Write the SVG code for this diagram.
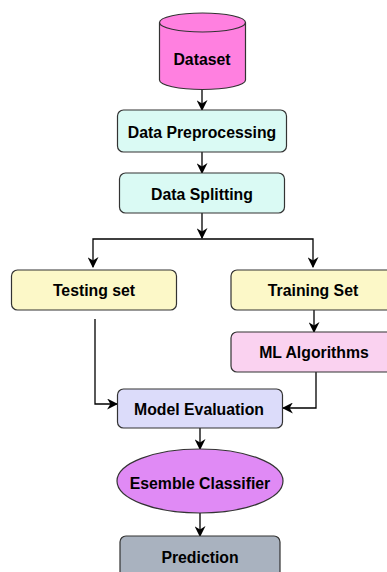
<svg xmlns="http://www.w3.org/2000/svg" width="387" height="572" viewBox="0 0 387 572">
  <style>
    .box { stroke: #333; stroke-width: 1.2; }
    .lbl { font-family: "Liberation Sans", Arial, sans-serif; font-weight: bold; font-size: 15.8px; fill: #000; text-anchor: middle; dominant-baseline: central; }
    .wire { fill: none; stroke: #000; stroke-width: 1.3; }
  </style>
  <defs>
    <marker id="arrow" viewBox="0 0 10 10" refX="9" refY="5" markerWidth="11" markerHeight="11" markerUnits="userSpaceOnUse" orient="auto">
      <path d="M0,0 L10,5 L0,10 L3,5 Z" fill="#000"/>
    </marker>
  </defs>

  <rect width="387" height="572" fill="#fff"/>

  <!-- connectors -->
  <g id="connectors">
    <path class="wire" d="M202,89 V110" marker-end="url(#arrow)"/>
    <path class="wire" d="M202,152 V173" marker-end="url(#arrow)"/>
    <path class="wire" d="M202,213 V238" marker-end="url(#arrow)"/>
    <path class="wire" d="M202,239 H93 V267" marker-end="url(#arrow)"/>
    <path class="wire" d="M202,239 H313 V267" marker-end="url(#arrow)"/>
    <path class="wire" d="M314,310 V332" marker-end="url(#arrow)"/>
    <path class="wire" d="M95,319 V404 H117" marker-end="url(#arrow)"/>
    <path class="wire" d="M316,372 V408 H283" marker-end="url(#arrow)"/>
    <path class="wire" d="M200,428 V449" marker-end="url(#arrow)"/>
    <path class="wire" d="M200,513 V536" marker-end="url(#arrow)"/>
  </g>

  <g id="dataset">
    <path class="box" fill="#ff80e0" d="M159.5,22.5 V80 A43,9.5 0 0 0 245.5,80 V22.5 A43,9.5 0 0 0 159.5,22.5 Z"/>
    <path class="box" fill="none" d="M159.5,22.5 A43,9.5 0 0 0 245.5,22.5"/>
    <text class="lbl" x="202" y="59">Dataset</text>
  </g>

  <g id="data-preprocessing">
    <rect class="box" x="117.5" y="110" width="169" height="42" rx="6" fill="#dafaf4"/>
    <text class="lbl" x="202" y="132">Data Preprocessing</text>
  </g>

  <g id="data-splitting">
    <rect class="box" x="119.5" y="173" width="165" height="40" rx="6" fill="#dafaf4"/>
    <text class="lbl" x="202" y="194">Data Splitting</text>
  </g>

  <g id="testing-set">
    <rect class="box" x="11.5" y="270" width="165" height="40" rx="6" fill="#fcf8c8"/>
    <text class="lbl" x="94" y="290">Testing set</text>
  </g>

  <g id="training-set">
    <rect class="box" x="231" y="270" width="165" height="40" rx="6" fill="#fcf8c8"/>
    <text class="lbl" x="313" y="290">Training Set</text>
  </g>

  <g id="ml-algorithms">
    <rect class="box" x="231" y="332" width="165" height="40" rx="6" fill="#fad2f0"/>
    <text class="lbl" x="314" y="352">ML Algorithms</text>
  </g>

  <g id="model-evaluation">
    <rect class="box" x="117.5" y="389" width="165" height="39" rx="6" fill="#dcdcfa"/>
    <text class="lbl" x="199" y="409">Model Evaluation</text>
  </g>

  <g id="ensemble-classifier">
    <ellipse class="box" cx="200" cy="481" rx="83" ry="32" fill="#e08af5"/>
    <text class="lbl" x="200" y="483">Esemble Classifier</text>
  </g>

  <g id="prediction">
    <rect class="box" x="120" y="536" width="160" height="46" rx="6" fill="#a9b2bf"/>
    <text class="lbl" x="200" y="557">Prediction</text>
  </g>
</svg>
